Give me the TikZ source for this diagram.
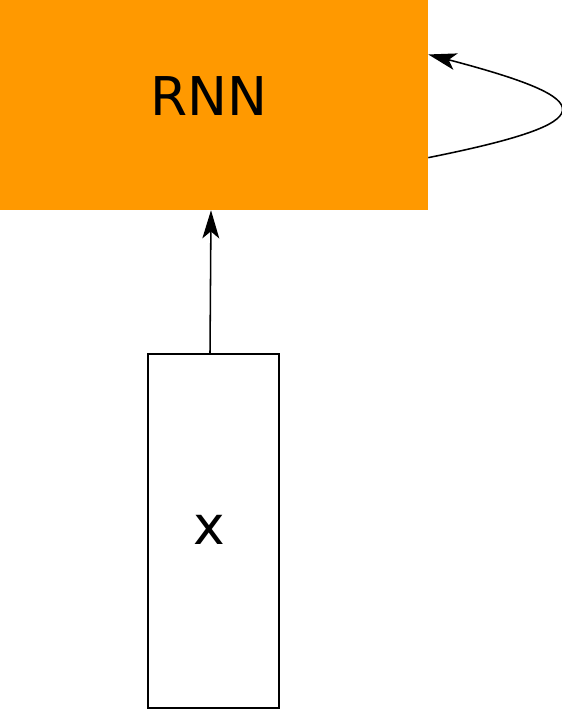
\documentclass[tikz,border=0pt]{standalone}
\usepackage{fontspec}
\setsansfont{DejaVu Sans}
\usepackage{tikz}
\usetikzlibrary{positioning, calc, arrows.meta}
\definecolor{rnnorange}{RGB}{255,153,0}
\tikzset{
	bigtext/.style={font=\sffamily\fontsize{38}{45}\selectfont, inner sep=0pt}
}
\tikzset{
	cellbox/.style={fill=rnnorange, draw=none, inner sep=0pt},
	inputbox/.style={draw, line width=0.8pt, inner sep=0pt},
	link/.style={line width=1.1pt, -{Stealth[length=20pt, width=12pt, inset=5pt]}}
}

\begin{document}
\begin{tikzpicture}[x=0.025cm, y=-0.025cm]
      \useasboundingbox (0,0) rectangle (561,709);
      \node[cellbox, minimum width=428*0.025cm, minimum height=210*0.025cm] (rnn) at (214,105) {};
      \node[bigtext] at (209,96) {RNN};
      \node[inputbox, minimum width=131*0.025cm, minimum height=354*0.025cm] (xin) at (213.5,531) {};
      \node[bigtext] at (209,530) {x};

      % input goes up into the cell
      \draw[link] ($(xin.north)+(-3.5,0)$) -- ($(rnn.south)+(-3,0)$);

      % recurrent loop on the right side
      \coordinate (loopout) at ($(rnn.north east)!0.75!(rnn.south east)$);
      \coordinate (loopin) at ($(rnn.north east)!0.26!(rnn.south east)$);
      \draw[link] (loopout) .. controls (606,122) and (602,100) .. (loopin);
    \end{tikzpicture}
\end{document}
